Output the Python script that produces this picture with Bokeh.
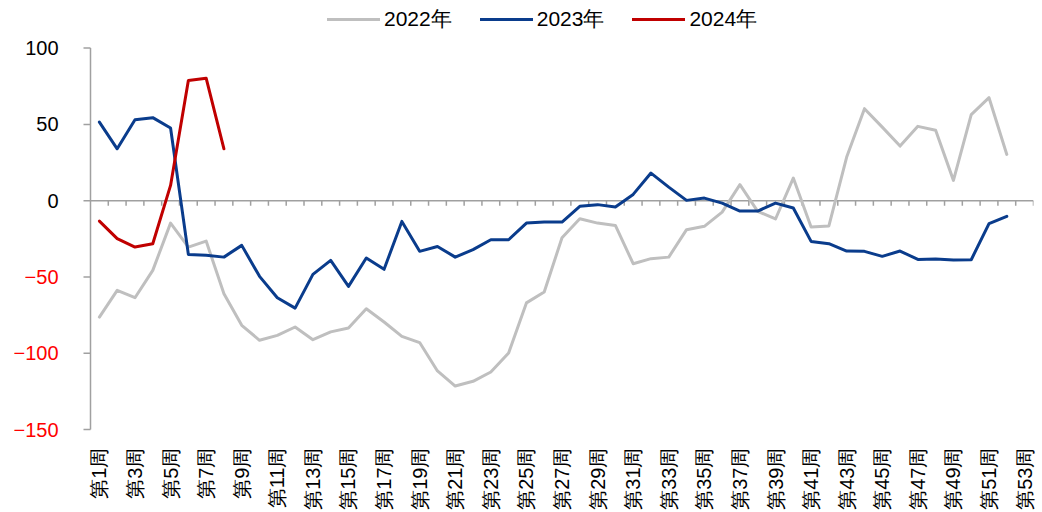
import math
from bokeh.plotting import figure
from bokeh.models import (Legend, LegendItem, FixedTicker, Range1d, ColumnDataSource)
from bokeh.core.properties import value
from bokeh.embed import file_html
from bokeh.resources import INLINE

weeks = list(range(1, 54))
week_labels = {w: f"第{w}周" for w in weeks}
label_weeks = [w for w in weeks if w % 2 == 1]

y_ticks = [-150, -100, -50, 0, 50, 100]
y_tick_labels = ["\u2212150", "\u2212100", "\u221250", "0", "50", "100"]

s2022 = [-76.3, -58.8, -63.6, -45.7, -14.7, -30.4, -26.5, -61, -81.7, -91.5,
         -88.3, -82.8, -91.1, -86, -83.5, -70.8, -79.5, -88.9, -93, -111.6,
         -121.5, -118.4, -112.3, -99.8, -67, -59.9, -24.3, -11.8, -14.7, -16.2,
         -41.3, -38, -37, -19, -16.8, -7.5, 10.5, -7, -12, 14.8,
         -17.3, -16.6, 28.6, 60.3, 48.2, 35.8, 48.7, 46.1, 13.3, 56.4,
         67.5, 30.3]
s2023 = [51.5, 34, 53, 54.4, 47.6, -35.2, -35.8, -37, -29.3, -49.6,
         -63.6, -70.4, -48.3, -39.1, -56.2, -37.6, -45, -13.6, -33.2, -30,
         -37, -32.1, -25.6, -25.6, -14.7, -14, -14, -3.7, -2.6, -4.2,
         4.1, 18.1, 8.9, 0.2, 1.7, -1.6, -6.8, -6.8, -1.6, -4.8,
         -26.7, -28.2, -33, -33.2, -36.5, -33, -38.5, -38.3, -38.9, -38.7,
         -15.1, -10.3]
s2024 = [-13.4, -24.9, -30.4, -28.2, 10, 78.8, 80.3, 34]

series_names = ["2022年", "2023年", "2024年"]
series_colors = ["#BFBFBF", "#0A3C8C", "#C00000"]

FONT = "Liberation Sans"
AXIS_GRAY = "#A0A0A0"

# layout (pixels) of the plotting area inside the figure
W, H = 1040, 512
AX_X = 90.0          # pixel x of the y-axis line
AX_R = 1033.0        # pixel x of the right end of the category axis
TOP_Y = 47.7         # pixel y of y=100
LOW_Y = 430.0        # pixel y of y=-150
FRAME_BOT = 446.0    # pixel y of the frame bottom

x_lo, x_hi = 0.5, 53.5
px_per_x = (AX_R - AX_X) / (x_hi - x_lo)
x_start = x_lo - AX_X / px_per_x
px_per_y = (LOW_Y - TOP_Y) / (max(y_ticks) - min(y_ticks))
y_end = max(y_ticks) + TOP_Y / px_per_y
y_start = min(y_ticks) - (FRAME_BOT - LOW_Y) / px_per_y

p = figure(width=W, height=H, output_backend="svg", toolbar_location=None,
           x_range=Range1d(x_start, x_hi), y_range=Range1d(y_start, y_end),
           min_border_left=0, min_border_right=int(W - AX_R), min_border_top=0,
           min_border_bottom=int(H - FRAME_BOT))
p.outline_line_color = None
p.grid.grid_line_color = None
p.yaxis.visible = False
p.background_fill_color = "white"
p.border_fill_color = "white"

# y axis drawn in data space (so that negative labels can be red)
tick_len = 7 / px_per_x
p.segment(x0=[x_lo], y0=[min(y_ticks)], x1=[x_lo], y1=[max(y_ticks)],
          line_color=AXIS_GRAY, line_width=1.5)
p.segment(x0=[x_lo - tick_len] * len(y_ticks), y0=y_ticks,
          x1=[x_lo] * len(y_ticks), y1=y_ticks, line_color=AXIS_GRAY, line_width=1.5)
ysrc = ColumnDataSource(dict(x=[x_lo] * len(y_ticks), y=y_ticks, t=y_tick_labels,
                             c=["#FF0000" if v < 0 else "#000000" for v in y_ticks]))
p.text(x="x", y="y", text="t", source=ysrc, text_color="c", x_offset=-32,
       text_align="right", text_baseline="middle",
       text_font=value(FONT), text_font_size="20px")

# zero line with category-boundary ticks
p.segment(x0=[x_lo], y0=[0], x1=[x_hi], y1=[0], line_color=AXIS_GRAY, line_width=1.5)
bounds = [w + 0.5 for w in weeks]
p.segment(x0=bounds, y0=[0] * len(bounds), x1=bounds,
          y1=[-5 / px_per_y] * len(bounds), line_color=AXIS_GRAY, line_width=1.5)

# x axis (labels only at bottom)
xax = p.xaxis[0]
xax.ticker = FixedTicker(ticks=label_weeks)
xax.major_label_overrides = {w: week_labels[w] for w in label_weeks}
xax.major_label_orientation = math.pi / 2
xax.axis_line_color = None
xax.major_tick_line_color = None
xax.minor_tick_line_color = None
xax.major_tick_out = 0
xax.major_tick_in = 0
xax.major_label_standoff = 2
xax.major_label_text_font = FONT
xax.major_label_text_font_size = "20px"
xax.major_label_text_color = "black"

renderers = []
for name, vals, col in zip(series_names, [s2022, s2023, s2024], series_colors):
    r = p.line(weeks[:len(vals)], vals, line_color=col, line_width=3,
               line_join="round", line_cap="round")
    renderers.append((name, r))

legend = Legend(items=[LegendItem(label=n, renderers=[r]) for n, r in renderers],
                orientation="horizontal", location=(327, int(FRAME_BOT - 34)),
                glyph_width=53, glyph_height=22, label_standoff=4, spacing=28,
                padding=0, margin=0, border_line_color=None,
                background_fill_alpha=0,
                label_text_font=FONT, label_text_font_size="21px",
                label_text_color="black")
p.add_layout(legend, "center")

open("out.html", "w").write(file_html(p, INLINE))
